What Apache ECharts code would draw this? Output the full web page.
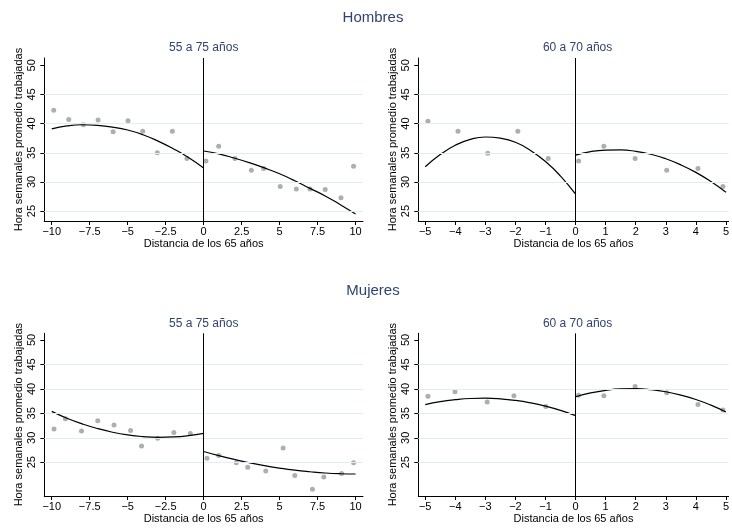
<!DOCTYPE html>
<html>
<head>
<meta charset="utf-8">
<script src="https://cdn.jsdelivr.net/npm/echarts@6/dist/echarts.min.js"></script>
<style>
html, body { margin: 0; padding: 0; background: #fff; }
#grafico { width: 732px; height: 528px; }
</style>
</head>
<body>
<div id="grafico"></div>
<script>
'use strict';

// marcas de los ejes
const ticksX10 = [-10, -7.5, -5, -2.5, 0, 2.5, 5, 7.5, 10];
const ticksX5 = [-5, -4, -3, -2, -1, 0, 1, 2, 3, 4, 5];
const ticksY = [25, 30, 35, 40, 45, 50];
const gridY = [25, 30, 35, 40, 45];

// Hombres, 55 a 75 años
const h1PuntosX = [-9.87, -8.88, -7.92, -6.95, -5.96, -4.98, -4.01, -3.05, -2.06, -1.1,
                   0.15, 0.99, 2.06, 3.14, 3.95, 5.04, 6.1, 7.0, 8.0, 9.04, 9.87];
const h1PuntosY = [42.3, 40.7, 39.8, 40.6, 38.6, 40.5, 38.7, 35.0, 38.7, 34.0,
                   33.6, 36.1, 34.0, 32.0, 32.3, 29.2, 28.8, 28.8, 28.7, 27.3, 32.7];
const h1AjusteIzqX = [-10, -9, -8, -7, -6, -5, -4, -3, -2, -1, 0];
const h1AjusteIzqY = [39.1, 39.6, 39.8, 39.7, 39.4, 38.9, 38.1, 37.0, 35.7, 34.2, 32.4];
const h1AjusteDerX = [0, 1, 2, 3, 4, 5, 6, 7, 8, 9, 10];
const h1AjusteDerY = [35.3, 34.8, 34.1, 33.3, 32.4, 31.4, 30.2, 28.9, 27.6, 26.1, 24.5];

// Hombres, 60 a 70 años
const h2PuntosX = [-4.91, -3.91, -2.92, -1.92, -0.91, 0.1, 0.94, 1.98, 3.03, 4.07, 4.9];
const h2PuntosY = [40.4, 38.7, 34.9, 38.7, 34.0, 33.6, 36.1, 34.0, 32.0, 32.3, 29.2];
const h2AjusteIzqX = [-5, -4.5, -4, -3.5, -3, -2.5, -2, -1.5, -1, -0.5, 0];
const h2AjusteIzqY = [32.6, 34.7, 36.3, 37.3, 37.7, 37.5, 36.8, 35.4, 33.5, 31.0, 27.9];
const h2AjusteDerX = [0, 0.5, 1, 1.5, 2, 2.5, 3, 3.5, 4, 4.5, 5];
const h2AjusteDerY = [34.6, 35.2, 35.45, 35.48, 35.24, 34.74, 33.97, 32.93, 31.64, 30.07, 28.24];

// Mujeres, 55 a 75 años
const m1PuntosX = [-9.85, -9.1, -8.04, -6.97, -5.9, -4.81, -4.09, -3.03, -1.96, -0.88,
                   0.22, 0.99, 2.15, 2.9, 4.09, 5.23, 6.0, 7.16, 7.91, 9.08, 9.87];
const m1PuntosY = [31.8, 33.9, 31.4, 33.5, 32.6, 31.5, 28.3, 29.9, 31.1, 30.9,
                   25.8, 26.4, 24.9, 24.0, 23.2, 27.9, 22.3, 19.5, 22.0, 22.7, 24.9];
const m1AjusteIzqX = [-10, -9, -8, -7, -6, -5, -4, -3, -2, -1, 0];
const m1AjusteIzqY = [35.4, 34.0, 32.86, 31.9, 31.14, 30.59, 30.25, 30.1, 30.17, 30.43, 30.9];
const m1AjusteDerX = [0, 1, 2, 3, 4, 5, 6, 7, 8, 9, 10];
const m1AjusteDerY = [27.2, 26.34, 25.58, 24.9, 24.3, 23.8, 23.38, 23.06, 22.8, 22.65, 22.6];

// Mujeres, 60 a 70 años
const m2PuntosX = [-4.91, -4.01, -2.94, -2.05, -0.99, 0.1, 0.94, 1.98, 3.03, 4.07, 4.9];
const m2PuntosY = [38.5, 39.4, 37.3, 38.6, 36.4, 38.7, 38.6, 40.5, 39.2, 36.8, 35.7];
const m2AjusteIzqX = [-5, -4.5, -4, -3.5, -3, -2.5, -2, -1.5, -1, -0.5, 0];
const m2AjusteIzqY = [36.8, 37.4, 37.8, 38.04, 38.1, 37.97, 37.65, 37.15, 36.47, 35.6, 34.54];
const m2AjusteDerX = [0, 0.5, 1, 1.5, 2, 2.5, 3, 3.5, 4, 4.5, 5];
const m2AjusteDerY = [38.4, 39.17, 39.7, 39.99, 40.04, 39.85, 39.42, 38.74, 37.83, 36.68, 35.29];

const fuente = 'Liberation Sans, Arial, sans-serif';
const azulTitulo = '#31436e';

function zip(xs, ys) {
    return xs.map((x, i) => [x, ys[i]]);
}

function menos(v) {
    return String(v).replace('-', '\u2212');
}

// cada panel: rejilla, ejes y series (el panel derecho queda cortado en el borde)
const paneles = [
    {left: 44.3, top: 58, width: 318.7, height: 163, xMin: -10.49, xMax: 10.49, ticks: ticksX10,
     yMin: 23.3, yMax: 51.25,
     px: h1PuntosX, py: h1PuntosY, ix: h1AjusteIzqX, iy: h1AjusteIzqY, dx: h1AjusteDerX, dy: h1AjusteDerY},
    {left: 418.3, top: 58, width: 313.7, height: 163, xMin: -5.23, xMax: 5.09, ticks: ticksX5,
     yMin: 23.3, yMax: 51.25,
     px: h2PuntosX, py: h2PuntosY, ix: h2AjusteIzqX, iy: h2AjusteIzqY, dx: h2AjusteDerX, dy: h2AjusteDerY},
    {left: 44.3, top: 333.3, width: 318.7, height: 162.7, xMin: -10.49, xMax: 10.49, ticks: ticksX10,
     yMin: 18.1, yMax: 51.37,
     px: m1PuntosX, py: m1PuntosY, ix: m1AjusteIzqX, iy: m1AjusteIzqY, dx: m1AjusteDerX, dy: m1AjusteDerY},
    {left: 418.3, top: 333.3, width: 313.7, height: 162.7, xMin: -5.23, xMax: 5.09, ticks: ticksX5,
     yMin: 18.1, yMax: 51.37,
     px: m2PuntosX, py: m2PuntosY, ix: m2AjusteIzqX, iy: m2AjusteIzqY, dx: m2AjusteDerX, dy: m2AjusteDerY}
];

const grid = [], xAxis = [], yAxis = [], series = [];

paneles.forEach(function (p, i) {
    grid.push({left: p.left, top: p.top, width: p.width, height: p.height});

    xAxis.push({
        type: 'value', gridIndex: i, min: p.xMin, max: p.xMax,
        name: 'Distancia de los 65 años', nameLocation: 'middle', nameGap: 17,
        nameTextStyle: {fontFamily: fuente, fontSize: 11, color: '#000'},
        axisLine: {onZero: false, lineStyle: {color: '#000', width: 1}},
        axisTick: {customValues: p.ticks, length: 4, lineStyle: {color: '#000'}},
        axisLabel: {customValues: p.ticks, margin: 5, fontFamily: fuente, fontSize: 11,
                    color: '#000', formatter: menos},
        splitLine: {show: false}
    });

    yAxis.push({
        type: 'value', gridIndex: i, min: p.yMin, max: p.yMax,
        name: 'Hora semanales promedio trabajadas', nameLocation: 'middle', nameGap: 20,
        nameTextStyle: {fontFamily: fuente, fontSize: 11, color: '#000'},
        axisLine: {show: true, onZero: false, lineStyle: {color: '#000', width: 1}},
        axisTick: {show: true, customValues: ticksY, length: 4, lineStyle: {color: '#000'}},
        axisLabel: {customValues: ticksY, rotate: 90, margin: 7, fontFamily: fuente,
                    fontSize: 11, color: '#000'},
        splitLine: {show: false}
    });

    series.push({
        type: 'scatter', xAxisIndex: i, yAxisIndex: i, z: 1,
        data: zip(p.px, p.py), symbolSize: 5,
        itemStyle: {color: '#9a9a9a'},
        markLine: {
            silent: true, symbol: 'none', label: {show: false},
            lineStyle: {color: '#e3edef', type: 'solid', width: 1},
            data: gridY.map(v => ({yAxis: v}))
        }
    });
    series.push({
        type: 'line', xAxisIndex: i, yAxisIndex: i, z: 2,
        data: zip(p.ix, p.iy), smooth: true, showSymbol: false,
        lineStyle: {color: '#000', width: 1.2}
    });
    series.push({
        type: 'line', xAxisIndex: i, yAxisIndex: i, z: 3,
        data: zip(p.dx, p.dy), smooth: true, showSymbol: false,
        lineStyle: {color: '#000', width: 1.2},
        markLine: {
            silent: true, symbol: 'none', label: {show: false},
            lineStyle: {color: '#000', type: 'solid', width: 1},
            data: [{xAxis: 0}]
        }
    });
});

function texto(t, x, y, size) {
    return {
        type: 'text', x: x, y: y, silent: true,
        style: {text: t, fill: azulTitulo, font: size + 'px ' + fuente,
                align: 'center', verticalAlign: 'middle'}
    };
}

var miGrafico = echarts.init(document.getElementById('grafico'));

var opcion = {
    animation: false,
    backgroundColor: '#fff',
    grid: grid,
    xAxis: xAxis,
    yAxis: yAxis,
    series: series,
    graphic: [
        texto('Hombres', 373, 17.5, 15),
        texto('Mujeres', 373, 290.5, 15),
        texto('55 a 75 años', 203.7, 47.3, 12),
        texto('60 a 70 años', 577.6, 47.3, 12),
        texto('55 a 75 años', 203.7, 324, 12),
        texto('60 a 70 años', 577.6, 324, 12)
    ]
};

miGrafico.setOption(opcion);
</script>
</body>
</html>
